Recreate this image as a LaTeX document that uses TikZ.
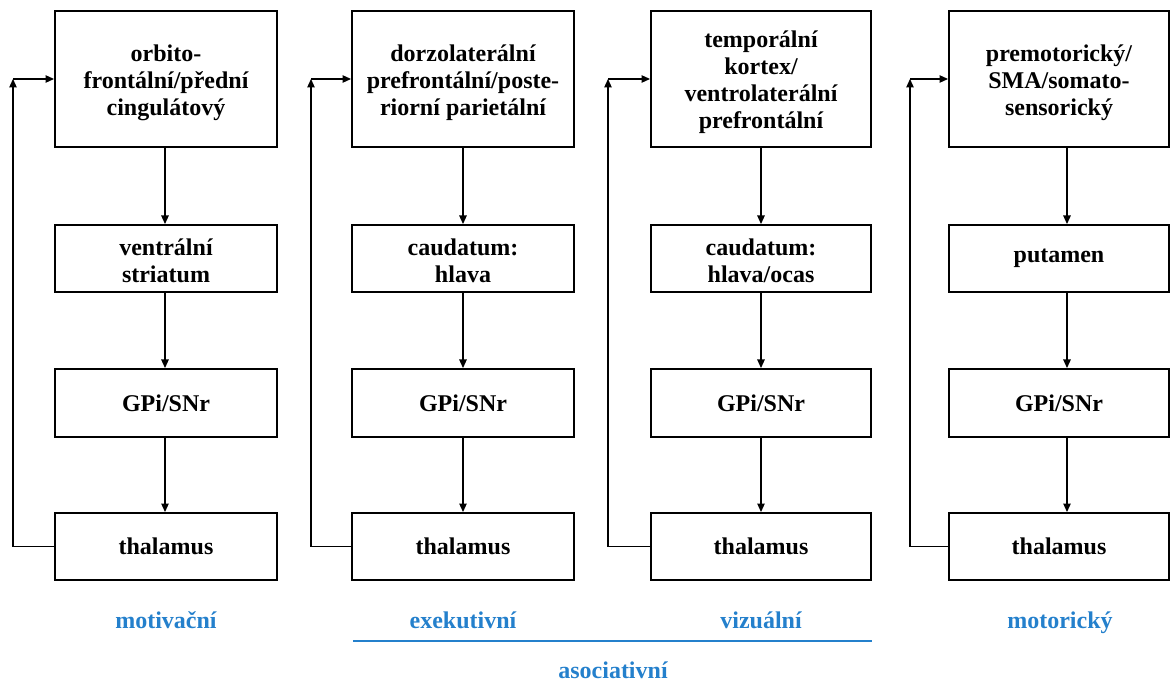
\documentclass[tikz,border=0pt]{standalone}
\usepackage{fontspec}
\setmainfont{Liberation Serif}
\usetikzlibrary{arrows.meta}
\definecolor{loopblue}{RGB}{36,128,204}
% strut lowering a multi-line label inside its box
\newcommand{\lowerby}[1]{\rule{0pt}{#1}}
\begin{document}
\begin{tikzpicture}[x=1pt,y=-1pt,
  box/.style={draw, line width=2pt, align=center, inner sep=0pt,
    font=\fontsize{24}{27}\selectfont\bfseries},
  arr/.style={line width=1.2pt, -{Triangle[length=8.5pt,width=7.5pt]}},
  lbl/.style={text=loopblue, font=\fontsize{24}{27}\selectfont\bfseries, inner sep=0pt, anchor=base}]
\useasboundingbox (0,0) rectangle (1170,684);

% column 1: motivational loop
\node[box, minimum width=222pt, minimum height=136pt] (c1) at (166,79) {\lowerby{25pt}orbito-\\frontální/přední\\cingulátový};
\node[box, minimum width=222pt, minimum height=67pt] (s1) at (166,258.5) {\lowerby{21pt}ventrální\\striatum};
\node[box, minimum width=222pt, minimum height=68pt] (g1) at (166,403) {GPi/SNr};
\node[box, minimum width=222pt, minimum height=67pt] (t1) at (166,546.5) {thalamus};

% column 2: executive loop
\node[box, minimum width=222pt, minimum height=136pt] (c2) at (463,79) {\lowerby{25pt}dorzolaterální\\prefrontální/poste-\\riorní parietální};
\node[box, minimum width=222pt, minimum height=67pt] (s2) at (463,258.5) {\lowerby{21pt}caudatum:\\hlava};
\node[box, minimum width=222pt, minimum height=68pt] (g2) at (463,403) {GPi/SNr};
\node[box, minimum width=222pt, minimum height=67pt] (t2) at (463,546.5) {thalamus};

% column 3: visual loop
\node[box, minimum width=220pt, minimum height=136pt] (c3) at (761,79) {\lowerby{23pt}temporální\\kortex/\\ventrolaterální\\prefrontální};
\node[box, minimum width=220pt, minimum height=67pt] (s3) at (761,258.5) {\lowerby{21pt}caudatum:\\hlava/ocas};
\node[box, minimum width=220pt, minimum height=68pt] (g3) at (761,403) {GPi/SNr};
\node[box, minimum width=220pt, minimum height=67pt] (t3) at (761,546.5) {thalamus};

% column 4: motor loop
\node[box, minimum width=220pt, minimum height=136pt] (c4) at (1059,79) {\lowerby{25pt}premotorický/\\SMA/somato-\\sensorický};
\node[box, minimum width=220pt, minimum height=67pt] (s4) at (1059,258.5) {putamen};
\node[box, minimum width=220pt, minimum height=68pt] (g4) at (1059,403) {GPi/SNr};
\node[box, minimum width=220pt, minimum height=67pt] (t4) at (1059,546.5) {thalamus};

% vertical axes of the downward arrows
\coordinate (a1) at (165,0);
\coordinate (a2) at (463,0);
\coordinate (a3) at (761,0);
\coordinate (a4) at (1067,0);

\foreach \i in {1,2,3,4} {
  \draw[arr] (c\i.south -| a\i) -- (s\i.north -| a\i);
  \draw[arr] (s\i.south -| a\i) -- (g\i.north -| a\i);
  \draw[arr] (g\i.south -| a\i) -- (t\i.north -| a\i);
}

% feedback loops from thalamus back to cortex
\coordinate (f1) at (13,79);
\coordinate (f2) at (311,79);
\coordinate (f3) at (608,79);
\coordinate (f4) at (910,79);
\foreach \i in {1,2,3,4} {
  \draw[arr] (t\i.west) -| (f\i);
  \draw[arr] (f\i) -- (c\i.west);
}

% loop names
\node[lbl] (m1) at (166,628) {motivační};
\node[lbl] (m2) at (463,628) {exekutivní};
\node[lbl] (m3) at (761,628) {vizuální};
\node[lbl] (m4) at (1060,628) {motorický};
\coordinate (bl) at (353,641);
\coordinate (br) at (872,641);
\draw[loopblue, line width=2.5pt] (bl) -- (br);
\node[lbl] (as) at (613,678) {asociativní};
\end{tikzpicture}
\end{document}
